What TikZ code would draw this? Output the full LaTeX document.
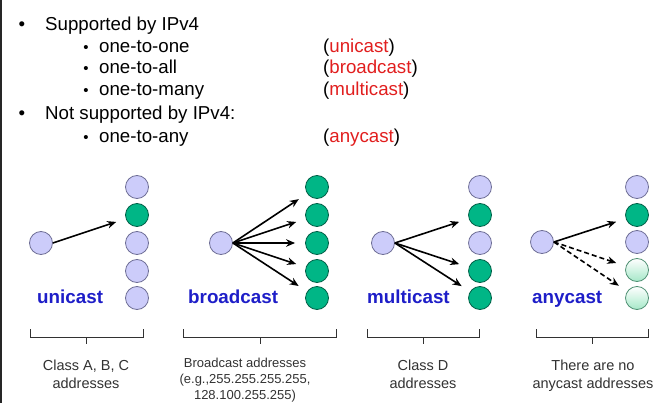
\documentclass[tikz,border=0pt]{standalone}
\usepackage{fontspec}
\setmainfont{Liberation Sans}
\usepackage{tikz}
\usetikzlibrary{arrows.meta,shadings}

\definecolor{hostfill}{RGB}{204,204,250}
\definecolor{hostline}{RGB}{110,110,150}
\definecolor{hitfill}{RGB}{0,182,134}
\definecolor{hitline}{RGB}{0,95,70}
\definecolor{maybefill}{RGB}{165,232,200}
\definecolor{maybeline}{RGB}{80,145,115}
\definecolor{castred}{RGB}{225,30,30}
\definecolor{castblue}{RGB}{30,30,200}
\definecolor{notegray}{RGB}{50,50,50}

\tikzset{
  host/.style={circle,draw=hostline,fill=hostfill,line width=0.8pt,minimum size=23pt,inner sep=0pt},
  hit/.style={host,draw=hitline,fill=hitfill},
  maybe/.style={host,draw=maybeline,top color=white,bottom color=maybefill},
  cast/.style={-{Stealth[length=9pt,width=7.5pt]},line width=1.6pt,shorten >=10pt},
  guess/.style={cast,dash pattern=on 5pt off 3pt},
  bigtext/.style={font=\fontsize{18.7}{22}\selectfont,inner sep=0pt,anchor=base west},
  subdot/.style={font=\fontsize{15}{18}\selectfont,inner sep=0pt,anchor=base},
  castname/.style={font=\fontsize{18.8}{22}\selectfont\bfseries,text=castblue,inner sep=0pt,anchor=base west},
  note/.style={font=\fontsize{14.5}{18}\selectfont,text=notegray,align=center,inner sep=0pt,anchor=base},
  bracket/.style={draw=notegray,line width=0.9pt}
}

\begin{document}
\begin{tikzpicture}[x=1pt,y=-1pt]
  \useasboundingbox (0,0) rectangle (663,403);
  \draw[line width=1.7pt,black!85] (0.85,0) -- (0.85,403);

  % the list
  \node[bigtext,anchor=base] (d1) at (22,31) {•};
  \node[bigtext] (t1) at (45,31) {Supported by IPv4};
  \node[subdot] (d2) at (86,52.5) {•};
  \node[bigtext] (t2) at (99,52.5) {one-to-one};
  \node[bigtext] (r2) at (323,52.5) {(\textcolor{castred}{unicast})};
  \node[subdot] (d3) at (86,74) {•};
  \node[bigtext] (t3) at (99,74) {one-to-all};
  \node[bigtext] (r3) at (323,74) {(\textcolor{castred}{broadcast})};
  \node[subdot] (d4) at (86,96) {•};
  \node[bigtext] (t4) at (99,96) {one-to-many};
  \node[bigtext] (r4) at (323,96) {(\textcolor{castred}{multicast})};
  \node[bigtext,anchor=base] (d5) at (22,120) {•};
  \node[bigtext] (t5) at (45,120) {Not supported by IPv4:};
  \node[subdot] (d6) at (86,142.5) {•};
  \node[bigtext] (t6) at (99,142.5) {one-to-any};
  \node[bigtext] (r6) at (323,142.5) {(\textcolor{castred}{anycast})};

  % unicast
  \node[host] (u0) at (41,243) {};
  \node[host] (u1) at (137,187) {};
  \node[hit]  (u2) at (137,215) {};
  \node[host] (u3) at (137,243) {};
  \node[host] (u4) at (137,271) {};
  \node[host] (u5) at (137,298) {};
  \draw[cast] (u0.east) to (u2);
  \node[castname] (un) at (37,303) {unicast};

  % broadcast
  \node[host] (b0) at (221,243) {};
  \node[hit] (b1) at (317,187) {};
  \node[hit] (b2) at (317,215) {};
  \node[hit] (b3) at (317,243) {};
  \node[hit] (b4) at (317,271) {};
  \node[hit] (b5) at (317,298) {};
  \draw[cast] (b0.east) to (b1);
  \draw[cast] (b0.east) to (b2);
  \draw[cast] (b0.east) to (b3);
  \draw[cast] (b0.east) to (b4);
  \draw[cast] (b0.east) to (b5);
  \node[castname] (bn) at (188,303) {broadcast};

  % multicast
  \node[host] (m0) at (383,243) {};
  \node[host] (m1) at (480,187) {};
  \node[hit]  (m2) at (480,215) {};
  \node[host] (m3) at (480,243) {};
  \node[hit]  (m4) at (480,271) {};
  \node[hit]  (m5) at (480,298) {};
  \draw[cast] (m0.east) to (m2);
  \draw[cast] (m0.east) to (m4);
  \draw[cast] (m0.east) to (m5);
  \node[castname] (mn) at (367,303) {multicast};

  % anycast
  \node[host]  (a0) at (542,242) {};
  \node[host]  (a1) at (637,187) {};
  \node[hit]   (a2) at (637,215) {};
  \node[host]  (a3) at (637,242) {};
  \node[maybe] (a4) at (637,270) {};
  \node[maybe] (a5) at (637,298) {};
  \draw[cast]  (a0.east) to (a2);
  \draw[guess] (a0.east) to (a4);
  \draw[guess] (a0.east) to (a5);
  \node[castname] (an) at (532,303) {anycast};

  % brackets and notes (base = last line)
  \draw[bracket] (30,329) -- (30,337) -- (143,337) -- (143,329) (86,337) -- (86,344);
  \draw[bracket] (183,329) -- (183,337) -- (336,337) -- (336,329) (260,337) -- (260,344);
  \draw[bracket] (367,329) -- (367,337) -- (479,337) -- (479,329) (423,337) -- (423,344);
  \draw[bracket] (536,329) -- (536,337) -- (648,337) -- (648,329) (592,337) -- (592,344);
  \node[note] (n1) at (86,388) {Class A, B, C\\addresses};
  \node[note,font=\fontsize{13}{16}\selectfont] (n2) at (245,399) {Broadcast addresses\\(e.g.,255.255.255.255,\\128.100.255.255)};
  \node[note] (n3) at (423,388) {Class D\\addresses};
  \node[note] (n4) at (593,388) {There are no\\anycast addresses};
\end{tikzpicture}
\end{document}
